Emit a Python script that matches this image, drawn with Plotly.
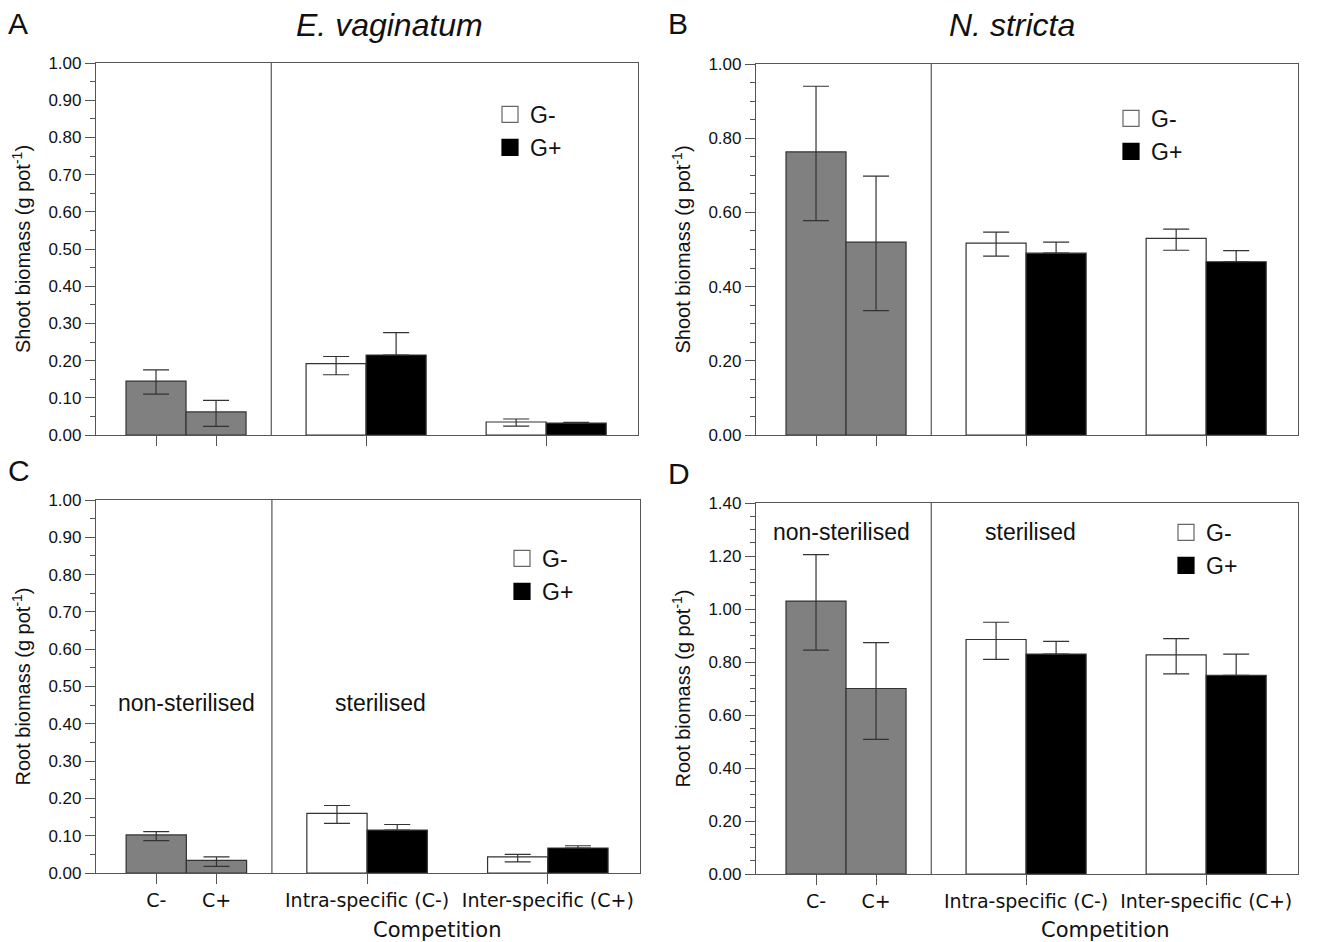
import plotly.graph_objects as go

# ---------------- data ----------------
categories = ["C-", "C+", "Intra-specific (C-)", "Inter-specific (C+)"]

# Panel A: shoot biomass, E. vaginatum
A_nonster = [0.145, 0.062]
A_nonster_up = [0.030, 0.031]
A_nonster_dn = [0.035, 0.039]
A_gminus = [0.192, 0.035]
A_gminus_up = [0.019, 0.008]
A_gminus_dn = [0.030, 0.011]
A_gplus = [0.215, 0.032]
A_gplus_up = [0.060, 0.002]

# Panel B: shoot biomass, N. stricta
B_nonster = [0.763, 0.520]
B_nonster_up = [0.177, 0.178]
B_nonster_dn = [0.185, 0.185]
B_gminus = [0.517, 0.530]
B_gminus_up = [0.030, 0.025]
B_gminus_dn = [0.035, 0.032]
B_gplus = [0.490, 0.467]
B_gplus_up = [0.030, 0.030]

# Panel C: root biomass, E. vaginatum
C_nonster = [0.102, 0.034]
C_nonster_up = [0.009, 0.009]
C_nonster_dn = [0.015, 0.016]
C_gminus = [0.160, 0.043]
C_gminus_up = [0.021, 0.007]
C_gminus_dn = [0.027, 0.013]
C_gplus = [0.115, 0.067]
C_gplus_up = [0.015, 0.006]

# Panel D: root biomass, N. stricta
D_nonster = [1.030, 0.700]
D_nonster_up = [0.175, 0.173]
D_nonster_dn = [0.185, 0.192]
D_gminus = [0.885, 0.827]
D_gminus_up = [0.065, 0.061]
D_gminus_dn = [0.075, 0.072]
D_gplus = [0.830, 0.750]
D_gplus_up = [0.048, 0.080]

panels = [
    dict(ax="", nonster=A_nonster, nu=A_nonster_up, nd=A_nonster_dn,
         gm=A_gminus, gmu=A_gminus_up, gmd=A_gminus_dn, gp=A_gplus, gpu=A_gplus_up),
    dict(ax="2", nonster=B_nonster, nu=B_nonster_up, nd=B_nonster_dn,
         gm=B_gminus, gmu=B_gminus_up, gmd=B_gminus_dn, gp=B_gplus, gpu=B_gplus_up),
    dict(ax="3", nonster=C_nonster, nu=C_nonster_up, nd=C_nonster_dn,
         gm=C_gminus, gmu=C_gminus_up, gmd=C_gminus_dn, gp=C_gplus, gpu=C_gplus_up),
    dict(ax="4", nonster=D_nonster, nu=D_nonster_up, nd=D_nonster_dn,
         gm=D_gminus, gmu=D_gminus_up, gmd=D_gminus_dn, gp=D_gplus, gpu=D_gplus_up),
]

# ---------------- layout constants ----------------
W, H = 1330, 942
OFF = 8  # page body margin
ARIAL = "Liberation Sans, Arial, sans-serif"
DEJAVU = "DejaVu Sans, sans-serif"
AXCOL = "#555555"
EDGE = "#333333"
GRAY = "#808080"
TXT = "#111111"


def fx(px):
    return (px - OFF) / W


def fy(py):
    return 1 - (py - OFF) / H


tick_pos = [1.0, 2.0, 4.5, 7.5]      # category centres on the numeric x axis
nonster_x = tick_pos[:2]
gm_x = [p - 0.5 for p in tick_pos[2:]]
gp_x = [p + 0.5 for p in tick_pos[2:]]
XR = [0, 9.03]
DIVIDER = 2.92

# pixel boxes (left, right, top, bottom) of each plot area
boxes = [(96, 638, 63, 435), (756, 1298, 64, 435), (96, 640, 500, 873), (756, 1298, 503, 874)]
ymax = [1.0, 1.0, 1.0, 1.4]
ydt = [0.1, 0.2, 0.1, 0.2]
ytitles = ["Shoot biomass (g pot<sup>-1</sup>)", "Shoot biomass (g pot<sup>-1</sup>)",
           "Root biomass (g pot<sup>-1</sup>)", "Root biomass (g pot<sup>-1</sup>)"]
legend_xy = [(490, 93), (1111, 97), (502, 537), (1166, 511)]

fig = go.Figure()

err_style = dict(type="data", symmetric=False, color=EDGE, thickness=1.2, width=13)

for i, p in enumerate(panels):
    xa = "x" + p["ax"]
    ya = "y" + p["ax"]
    lg = "legend" + p["ax"]
    fig.add_trace(go.Bar(x=nonster_x, y=p["nonster"], width=1.0, xaxis=xa, yaxis=ya,
                         marker=dict(color=GRAY, line=dict(color=EDGE, width=1.2)),
                         error_y=dict(array=p["nu"], arrayminus=p["nd"], **err_style),
                         showlegend=False))
    fig.add_trace(go.Bar(x=gm_x, y=p["gm"], width=1.0, xaxis=xa, yaxis=ya,
                         marker=dict(color="white", line=dict(color=EDGE, width=1.2)),
                         error_y=dict(array=p["gmu"], arrayminus=p["gmd"], **err_style),
                         showlegend=False))
    fig.add_trace(go.Bar(x=gp_x, y=p["gp"], width=1.0, xaxis=xa, yaxis=ya,
                         marker=dict(color="black", line=dict(color=EDGE, width=1.2)),
                         error_y=dict(array=p["gpu"], arrayminus=[0 for _ in p["gpu"]], **err_style),
                         showlegend=False))
    # legend entries
    fig.add_trace(go.Scatter(x=[None], y=[None], xaxis=xa, yaxis=ya, mode="markers",
                             name="G-", legend=lg,
                             marker=dict(symbol="square", size=16, color="white",
                                         line=dict(color="#666666", width=1.2))))
    fig.add_trace(go.Scatter(x=[None], y=[None], xaxis=xa, yaxis=ya, mode="markers",
                             name="G+", legend=lg,
                             marker=dict(symbol="square", size=16, color="black",
                                         line=dict(color="black", width=1.2))))

    l, r, t, b = boxes[i]
    xkey = "xaxis" + p["ax"]
    ykey = "yaxis" + p["ax"]
    bottom = i >= 2
    fig.update_layout(**{
        xkey: dict(domain=[fx(l), fx(r)], range=XR, anchor=ya,
                   tickmode="array", tickvals=tick_pos, ticktext=categories,
                   showticklabels=bottom, ticks="outside", ticklen=10, tickcolor=AXCOL,
                   showline=True, linecolor=AXCOL, linewidth=1.2, mirror=True,
                   showgrid=False, zeroline=False, automargin=False,
                   tickfont=dict(family=DEJAVU, size=19, color=TXT)),
        ykey: dict(domain=[fy(b), fy(t)], range=[0, ymax[i]], anchor=xa,
                   dtick=ydt[i], tickformat=".2f", ticks="outside", ticklen=10,
                   tickcolor=AXCOL, showline=True, linecolor=AXCOL, linewidth=1.2,
                   mirror=True, showgrid=False, zeroline=False, automargin=False,
                   minor=dict(dtick=0.05, ticks="outside", ticklen=5, tickcolor=AXCOL),
                   tickfont=dict(family=ARIAL, size=17, color=TXT),
                   title=dict(text=ytitles[i], font=dict(family=ARIAL, size=20, color=TXT),
                              standoff=12)),
        lg: dict(x=fx(legend_xy[i][0]), y=fy(legend_xy[i][1]), xanchor="left", yanchor="top",
                 bgcolor="rgba(0,0,0,0)", font=dict(family=ARIAL, size=23, color=TXT),
                 itemwidth=30, tracegroupgap=0),
    })
    fig.add_shape(type="line", xref=xa, yref=ya + " domain", x0=DIVIDER, x1=DIVIDER, y0=0, y1=1,
                  line=dict(color=AXCOL, width=1.2))

letters = [("A", 6, 24), ("B", 666, 24), ("C", 6, 470), ("D", 666, 473)]
for txt, px, py in letters:
    fig.add_annotation(text=txt, x=fx(px), y=fy(py), xref="paper", yref="paper",
                       xanchor="left", yanchor="middle", showarrow=False,
                       font=dict(family=ARIAL, size=30, color=TXT))

for txt, px in [("<i>E. vaginatum</i>", 390), ("<i>N. stricta</i>", 1012)]:
    fig.add_annotation(text=txt, x=fx(px), y=fy(25), xref="paper", yref="paper",
                       xanchor="center", yanchor="middle", showarrow=False,
                       font=dict(family=ARIAL, size=32, color=TXT))

region_labels = ["non-sterilised", "sterilised"]
for xa, ya, yv, xs in [("x3", "y3", 0.455, [1.5, 4.73]), ("x4", "y4", 1.29, [1.42, 4.58])]:
    for txt, xv in zip(region_labels, xs):
        fig.add_annotation(text=txt, x=xv, y=yv, xref=xa, yref=ya, showarrow=False,
                           xanchor="center", yanchor="middle",
                           font=dict(family=ARIAL, size=23, color=TXT))

for xc in [437, 1105]:
    fig.add_annotation(text="Competition", x=fx(xc), y=fy(930), xref="paper", yref="paper",
                       xanchor="center", yanchor="middle", showarrow=False,
                       font=dict(family=DEJAVU, size=21, color=TXT))

fig.update_layout(width=W, height=H, margin=dict(l=0, r=0, t=0, b=0, autoexpand=False),
                  paper_bgcolor="white", plot_bgcolor="white", barmode="overlay")

fig.write_html("out.html")
